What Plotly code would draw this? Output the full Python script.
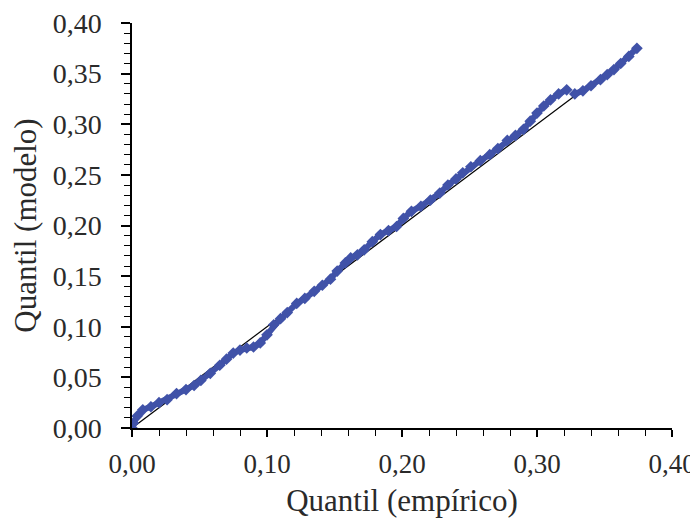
import plotly.graph_objects as go

quantil_empirico = [
    0.000, 0.001, 0.004, 0.008, 0.014, 0.020, 0.026, 0.033, 0.040, 0.046,
    0.051, 0.058, 0.065, 0.070, 0.075, 0.080, 0.085, 0.090, 0.095, 0.100,
    0.105, 0.110, 0.115, 0.122, 0.128, 0.135, 0.141, 0.147, 0.152, 0.158,
    0.162, 0.167, 0.172, 0.178, 0.184, 0.190, 0.196, 0.201, 0.207, 0.214,
    0.221, 0.228, 0.234, 0.240, 0.245, 0.251, 0.258, 0.265, 0.271, 0.278,
    0.284, 0.290, 0.295, 0.300, 0.305, 0.310, 0.316, 0.322, None,
    0.328, 0.334, 0.340, 0.347, 0.352, 0.357, 0.362, 0.368, 0.374,
]
quantil_modelo = [
    0.000, 0.005, 0.012, 0.018, 0.021, 0.025, 0.028, 0.034, 0.038, 0.042,
    0.047, 0.054, 0.062, 0.068, 0.074, 0.077, 0.079, 0.080, 0.084, 0.092,
    0.102, 0.108, 0.114, 0.123, 0.128, 0.135, 0.141, 0.147, 0.155, 0.163,
    0.168, 0.171, 0.176, 0.184, 0.191, 0.195, 0.199, 0.207, 0.214, 0.219,
    0.225, 0.232, 0.240, 0.246, 0.252, 0.258, 0.264, 0.270, 0.276, 0.284,
    0.289, 0.295, 0.303, 0.311, 0.318, 0.324, 0.330, 0.334, None,
    0.330, 0.333, 0.338, 0.344, 0.349, 0.354, 0.360, 0.367, 0.375,
]
# Reference line y = x
ref_x = [0.0, 0.375]
ref_y = [0.0, 0.375]

x_ticks = [0.0, 0.1, 0.2, 0.3, 0.4]
y_ticks = [0.0, 0.05, 0.10, 0.15, 0.20, 0.25, 0.30, 0.35, 0.40]

blue = "#4052A8"
font_family = "Liberation Serif, Times New Roman, serif"
text_color = "#2a2a2a"

fig = go.Figure()
fig.add_trace(go.Scatter(
    x=ref_x, y=ref_y, mode="lines",
    line=dict(color="black", width=1.3),
    hoverinfo="skip", showlegend=False,
))
fig.add_trace(go.Scatter(
    x=quantil_empirico, y=quantil_modelo, mode="lines+markers",
    line=dict(color=blue, width=6),
    marker=dict(color=blue, size=9, symbol="diamond"),
    connectgaps=False, showlegend=False,
))

axis_common = dict(
    showgrid=False, zeroline=False, automargin=False,
    showline=True, linecolor="black", linewidth=1.5,
    ticks="outside", tickcolor="black", tickwidth=1.5,
    tickformat=".2f", ticklabeloverflow="allow",
)

# The page body adds an 8px margin; keep the page within the window
# (no scrollbar) so the right-most tick label is not clipped.
fig.update_layout(
    width=690, height=510,
    paper_bgcolor="white", plot_bgcolor="white",
    separators=",.",
    margin=dict(l=124, r=26, t=15, b=90),
    font=dict(family=font_family, color=text_color),
    xaxis=dict(
        range=[0, 0.4], tickvals=x_ticks, ticklen=7, ticklabelstandoff=4,
        tickfont=dict(family=font_family, size=27, color=text_color),
        minor=dict(dtick=0.02, ticks="outside", ticklen=6, tickcolor="black", tickwidth=1.2),
        title=dict(text="Quantil (empírico)", font=dict(family=font_family, size=31, color=text_color), standoff=13),
        **axis_common,
    ),
    yaxis=dict(
        range=[0, 0.4], tickvals=y_ticks, ticklen=9, ticklabelstandoff=14,
        tickfont=dict(family=font_family, size=28, color=text_color),
        minor=dict(dtick=0.01, ticks="outside", ticklen=6, tickcolor="black", tickwidth=1.2),
        title=dict(text="Quantil (modelo)", font=dict(family=font_family, size=31, color=text_color), standoff=12),
        **axis_common,
    ),
)

fig.write_html("out.html")
